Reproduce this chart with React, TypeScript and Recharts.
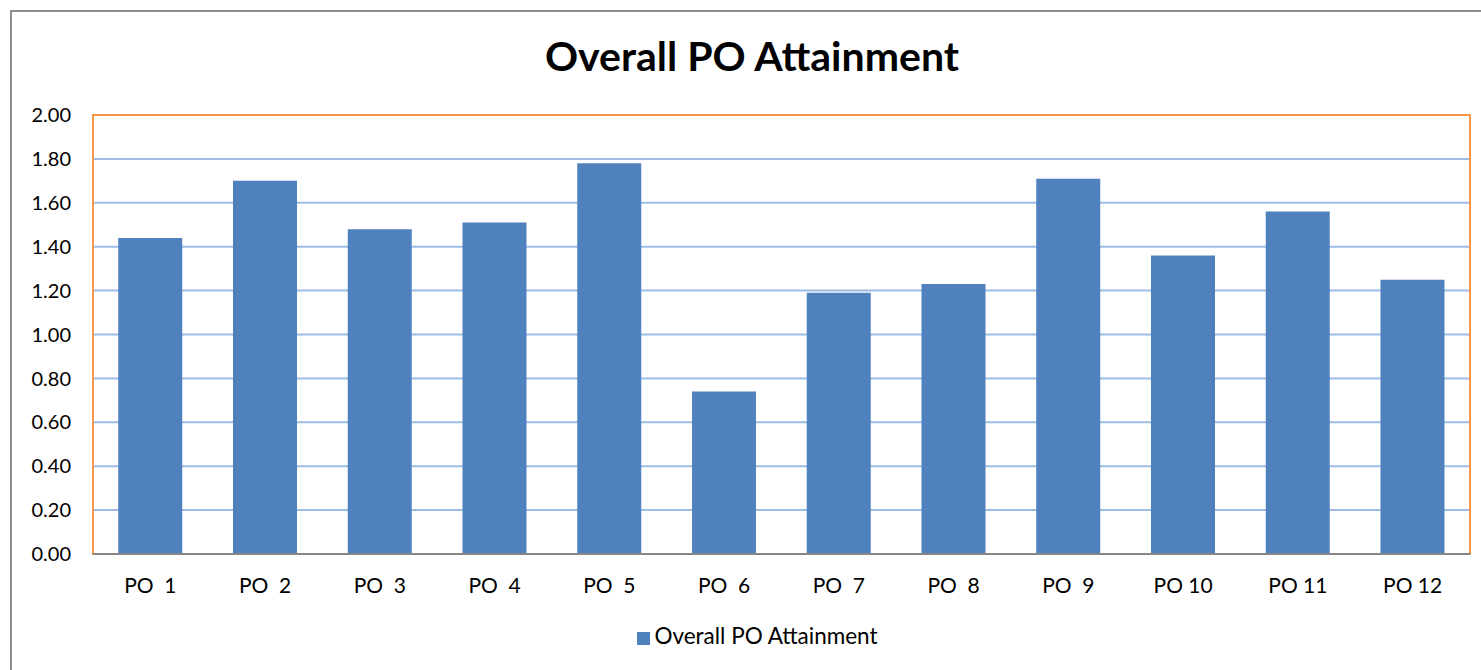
import React from 'react';
import { BarChart, Bar, XAxis, YAxis, CartesianGrid, Legend, ReferenceArea } from 'recharts';

const categories = ['PO\u00a0\u00a01', 'PO\u00a0\u00a02', 'PO\u00a0\u00a03', 'PO\u00a0\u00a04', 'PO\u00a0\u00a05', 'PO\u00a0\u00a06', 'PO\u00a0\u00a07', 'PO\u00a0\u00a08', 'PO\u00a0\u00a09', 'PO 10', 'PO 11', 'PO 12'];
const attainment = [1.44, 1.70, 1.48, 1.51, 1.78, 0.74, 1.19, 1.23, 1.71, 1.36, 1.56, 1.25];
const yTicks = [0, 0.2, 0.4, 0.6, 0.8, 1.0, 1.2, 1.4, 1.6, 1.8, 2.0];

const chartData = categories.map((name, i) => ({ name, value: attainment[i] }));

const FONT = 'Lato, "Open Sans", sans-serif';

const App: React.FC = () => {
    return (
        <div style={{ position: 'absolute', left: 0, top: 0, width: 1481, height: 670, background: '#fff', overflow: 'hidden', fontFamily: FONT }}>
            <div style={{ position: 'absolute', left: 10, top: 10, width: 1480, height: 680, border: '2px solid #8c8c8c', boxSizing: 'border-box' }} />
            <div style={{ position: 'absolute', left: 10, top: 31, width: 1484, textAlign: 'center', fontWeight: 700, fontSize: 41, color: '#000' }}>
                Overall PO Attainment
            </div>
            <div style={{ position: 'absolute', left: 0, top: 0 }}>
                <BarChart
                    width={1481}
                    height={670}
                    data={chartData}
                    margin={{ top: 115, right: 11, left: 0, bottom: 59 }}
                    barCategoryGap="22%"
                >
                    <CartesianGrid vertical={false} stroke="#9dbde6" strokeWidth={2} />
                    <ReferenceArea y1={0} y2={2} fill="none" stroke="#f79646" strokeWidth={2} ifOverflow="visible" />
                    <XAxis
                        dataKey="name"
                        axisLine={{ stroke: '#868686', strokeWidth: 2 }}
                        tickLine={false}
                        tickMargin={18}
                        tick={{ fill: '#000', fontSize: 21, fontFamily: FONT }}
                        interval={0}
                    />
                    <YAxis
                        width={93}
                        domain={[0, 2]}
                        ticks={yTicks}
                        tickFormatter={(v: number) => v.toFixed(2)}
                        axisLine={false}
                        tickLine={false}
                        tickSize={0}
                        tickMargin={22}
                        tick={{ fill: '#000', fontSize: 20, fontFamily: FONT }}
                        interval={0}
                    />
                    <Legend
                        verticalAlign="bottom"
                        iconType="square"
                        iconSize={13}
                        wrapperStyle={{ top: 622, left: 22, width: 1481, fontSize: 22.5, fontFamily: FONT }}
                        formatter={(value: string) => <span style={{ color: '#000' }}>{value}</span>}
                    />
                    <Bar dataKey="value" name="Overall PO Attainment" fill="#4f81bd" isAnimationActive={false} />
                </BarChart>
            </div>
        </div>
    );
};

export default App;
